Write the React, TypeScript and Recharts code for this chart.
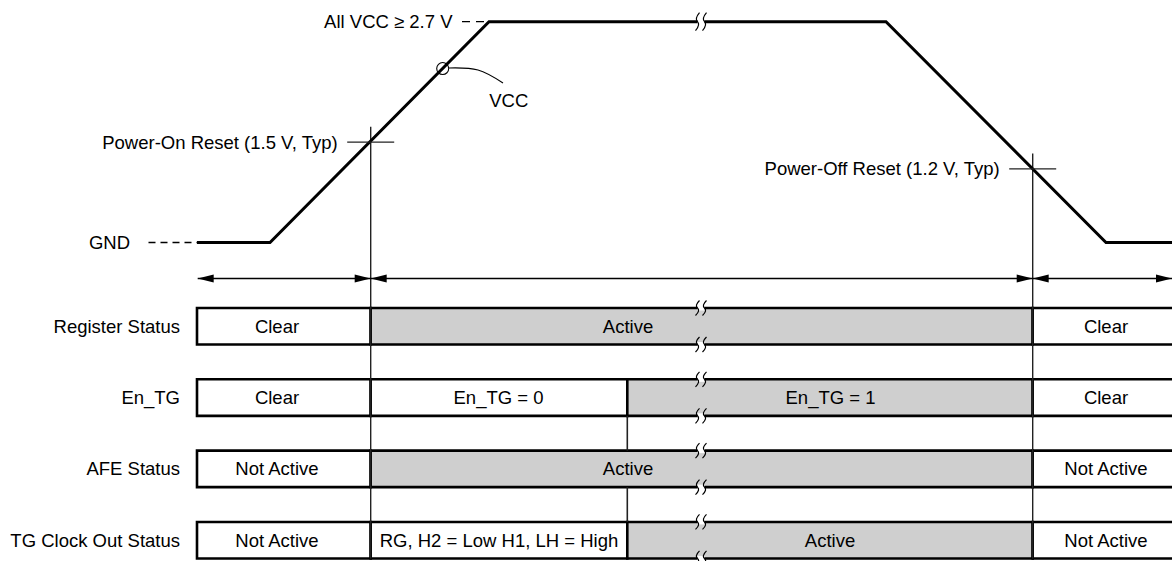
import React from "react";
import {
  ComposedChart,
  Line,
  XAxis,
  YAxis,
  ReferenceLine,
  ReferenceArea,
  ReferenceDot,
} from "recharts";

const W = 1172;
const H = 561;
const FONT = "'Liberation Sans', Arial, Helvetica, sans-serif";
const FS = 18.5;

// time marks, left to right
const T_START = 197;
const T_RISE = 270;
const T_POR = 370.7;
const T_HIGH = 489;
const T_EN = 627.3;
const T_BREAK = 701;
const T_FALL = 886;
const T_POFF = 1032.7;
const T_LOW = 1106;
const T_END = 1180;

// axes: voltage for the VCC trace, lanes for the status rows
const VOLT_DOMAIN = [-4.76, 3.624];
const LANE_DOMAIN = [-4.576, 3.292];

const vccTimes = [T_START, T_RISE, T_HIGH, T_FALL, T_LOW, T_END];
const vccVolts = [0, 0, 3.3, 3.3, 0, 0];
const VCC_HIGH = 3.3;

const thresholdNames = ["Power-On Reset (1.5 V, Typ)", "Power-Off Reset (1.2 V, Typ)"];
const thresholdTimes = [T_POR, T_POFF];
const thresholdVolts = [1.5, 1.1];

const probeTime = 442.7;
const probeVolt = 2.6;
const leaderTimes = [449, 478, 503];
const leaderVolts = [2.608, 2.578, 2.384];
const vccLabelTime = 508.8;
const vccLabelVolt = 2.13;

const rowNames = ["Register Status", "En_TG", "AFE Status", "TG Clock Out Status"];
const rowEdges = [
  [T_START, T_POR, T_POFF, T_END],
  [T_START, T_POR, T_EN, T_POFF, T_END],
  [T_START, T_POR, T_POFF, T_END],
  [T_START, T_POR, T_EN, T_POFF, T_END],
];
const rowTexts = [
  ["Clear", "Active", "Clear"],
  ["Clear", "En_TG = 0", "En_TG = 1", "Clear"],
  ["Not Active", "Active", "Not Active"],
  ["Not Active", "RG, H2 = Low H1, LH = High", "Active", "Not Active"],
];
const rowActive = [
  [0, 1, 0],
  [0, 0, 1, 0],
  [0, 1, 0],
  [0, 0, 1, 0],
];
const rowTextAt = [
  [277, 628, 1106],
  [277, 498.5, 830.5, 1106],
  [277, 628, 1106],
  [277, 499, 830, 1106],
];
// the En_TG edge is carried down through the gaps between these rows
const enGapRows = [1, 2];

const phaseEdges = [197.7, T_POR, T_POFF, 1172];
const ARROW_LANE = -0.67;
const BOX_HALF = 0.256;

const vccWave = vccTimes.map((t, i) => ({ t, v: vccVolts[i] }));
const leader = leaderTimes.map((t, i) => ({ t, v: leaderVolts[i] }));

// map a voltage onto the lane axis (both axes share the plot height)
const voltToLane = (v: number) => {
  const f = (VOLT_DOMAIN[1] - v) / (VOLT_DOMAIN[1] - VOLT_DOMAIN[0]);
  return LANE_DOMAIN[0] + f * (LANE_DOMAIN[1] - LANE_DOMAIN[0]);
};

const txt = { fill: "#000", fontSize: FS, fontFamily: FONT };

const DoubleArrow = (p: any) => {
  const { x1, y1, x2, y2 } = p;
  const L = 16;
  const w = 4;
  return (
    <g>
      <line x1={x1} y1={y1} x2={x2} y2={y2} stroke="#000" strokeWidth={1.3} />
      <polygon points={`${x1},${y1} ${x1 + L},${y1 - w} ${x1 + L},${y1 + w}`} fill="#000" />
      <polygon points={`${x2},${y2} ${x2 - L},${y2 - w} ${x2 - L},${y2 + w}`} fill="#000" />
    </g>
  );
};

const breakMark = (size: number) => (p: any) => {
  const { cx, cy } = p;
  const h = size / 2;
  const s = (x: number) =>
    `M${x + 2},${cy - h} Q${x - 3},${cy - h / 3} ${x},${cy} Q${x + 3},${cy + h / 3} ${x - 2},${cy + h}`;
  return (
    <g>
      <rect x={cx - 3.5} y={cy - 2.5} width={7} height={5} fill="#fff" />
      <path d={s(cx - 3.5)} fill="none" stroke="#000" strokeWidth={1.2} />
      <path d={s(cx + 3.5)} fill="none" stroke="#000" strokeWidth={1.2} />
    </g>
  );
};

const noDot = () => <g />;

export default function App() {
  return (
    <div style={{ position: "absolute", left: 0, top: 0, width: W, height: H, background: "#fff" }}>
      <ComposedChart width={W} height={H} margin={{ top: 0, right: 0, bottom: 0, left: 0 }}>
        <XAxis dataKey="t" type="number" domain={[0, W]} hide allowDataOverflow />
        <YAxis yAxisId="volt" type="number" domain={VOLT_DOMAIN} hide allowDataOverflow />
        <YAxis yAxisId="lane" type="number" domain={LANE_DOMAIN} reversed hide allowDataOverflow />

        {rowEdges.map((edges, r) =>
          edges.slice(0, -1).map((x1, k) => (
            <ReferenceArea
              key={`a${r}-${k}`}
              yAxisId="lane"
              x1={x1}
              x2={edges[k + 1]}
              y1={r - BOX_HALF}
              y2={r + BOX_HALF}
              fill={rowActive[r][k] ? "#cfcfcf" : "#fff"}
              fillOpacity={1}
              stroke="#000"
              strokeWidth={2.6}
              ifOverflow="visible"
            />
          ))
        )}

        {thresholdTimes.map((t, i) => (
          <ReferenceLine
            key={`m${i}`}
            yAxisId="lane"
            segment={[
              { x: t, y: voltToLane(thresholdVolts[i] + 0.23) },
              { x: t, y: rowNames.length - 1 + BOX_HALF },
            ]}
            stroke="#222"
            strokeWidth={1.4}
            ifOverflow="visible"
          />
        ))}
        {enGapRows.map((r) => (
          <ReferenceLine
            key={`g${r}`}
            yAxisId="lane"
            segment={[
              { x: T_EN, y: r + BOX_HALF },
              { x: T_EN, y: r + 1 - BOX_HALF },
            ]}
            stroke="#222"
            strokeWidth={1.6}
            ifOverflow="visible"
          />
        ))}

        {phaseEdges.slice(0, -1).map((x, i) => (
          <ReferenceLine
            key={`p${i}`}
            yAxisId="lane"
            segment={[
              { x, y: ARROW_LANE },
              { x: phaseEdges[i + 1], y: ARROW_LANE },
            ]}
            shape={DoubleArrow}
            ifOverflow="visible"
          />
        ))}

        <Line
          data={vccWave}
          dataKey="v"
          yAxisId="volt"
          type="linear"
          stroke="#000"
          strokeWidth={3}
          strokeLinejoin="miter"
          dot={false}
          activeDot={false}
          isAnimationActive={false}
        />
        <Line
          data={leader}
          dataKey="v"
          yAxisId="volt"
          type="natural"
          stroke="#000"
          strokeWidth={1.1}
          dot={false}
          activeDot={false}
          isAnimationActive={false}
        />

        <ReferenceLine
          yAxisId="volt"
          segment={[
            { x: 148.5, y: 0 },
            { x: T_START, y: 0 },
          ]}
          stroke="#000"
          strokeWidth={1.3}
          strokeDasharray="7 5"
          ifOverflow="visible"
        />
        <ReferenceLine
          yAxisId="volt"
          segment={[
            { x: 462, y: VCC_HIGH },
            { x: T_HIGH, y: VCC_HIGH },
          ]}
          stroke="#000"
          strokeWidth={1.3}
          strokeDasharray="8 6"
          ifOverflow="visible"
        />

        {thresholdTimes.map((t, i) => (
          <ReferenceLine
            key={`c${i}`}
            yAxisId="volt"
            segment={[
              { x: t - 23.5, y: thresholdVolts[i] },
              { x: t + 23.5, y: thresholdVolts[i] },
            ]}
            stroke="#222"
            strokeWidth={1.4}
            ifOverflow="visible"
          />
        ))}

        <ReferenceDot
          yAxisId="volt"
          x={probeTime}
          y={probeVolt}
          r={6}
          fill="none"
          stroke="#000"
          strokeWidth={1.1}
          ifOverflow="visible"
        />

        <ReferenceDot
          yAxisId="volt"
          x={T_BREAK}
          y={VCC_HIGH}
          r={0}
          shape={breakMark(18)}
          ifOverflow="visible"
        />
        {rowNames.map((_, r) =>
          [r - BOX_HALF, r + BOX_HALF].map((y, k) => (
            <ReferenceDot
              key={`b${r}-${k}`}
              yAxisId="lane"
              x={T_BREAK}
              y={y}
              r={0}
              shape={breakMark(15)}
              ifOverflow="visible"
            />
          ))
        )}

        {/* texts */}
        <ReferenceDot
          yAxisId="volt"
          x={148.5}
          y={0}
          r={0}
          shape={noDot}
          ifOverflow="visible"
          label={{ value: "GND", position: "left", offset: 18.5, ...txt }}
        />
        <ReferenceDot
          yAxisId="volt"
          x={462}
          y={VCC_HIGH}
          r={0}
          shape={noDot}
          ifOverflow="visible"
          label={{ value: "All VCC ≥ 2.7 V", position: "left", offset: 9.5, ...txt }}
        />
        <ReferenceDot
          yAxisId="volt"
          x={vccLabelTime}
          y={vccLabelVolt}
          r={0}
          shape={noDot}
          ifOverflow="visible"
          label={{ value: "VCC", position: "center", ...txt }}
        />
        {thresholdTimes.map((t, i) => (
          <ReferenceDot
            key={`tl${i}`}
            yAxisId="volt"
            x={t - 23.5}
            y={thresholdVolts[i]}
            r={0}
            shape={noDot}
            ifOverflow="visible"
            label={{ value: thresholdNames[i], position: "left", offset: 9.5, ...txt }}
          />
        ))}
        {rowNames.map((name, r) => (
          <ReferenceDot
            key={`rn${r}`}
            yAxisId="lane"
            x={T_START}
            y={r}
            r={0}
            shape={noDot}
            ifOverflow="visible"
            label={{ value: name, position: "left", offset: 17, ...txt }}
          />
        ))}
        {rowTexts.map((texts, r) =>
          texts.map((s, k) => (
            <ReferenceDot
              key={`rt${r}-${k}`}
              yAxisId="lane"
              x={rowTextAt[r][k]}
              y={r}
              r={0}
              shape={noDot}
              ifOverflow="visible"
              label={{ value: s, position: "center", ...txt }}
            />
          ))
        )}
      </ComposedChart>
    </div>
  );
}
